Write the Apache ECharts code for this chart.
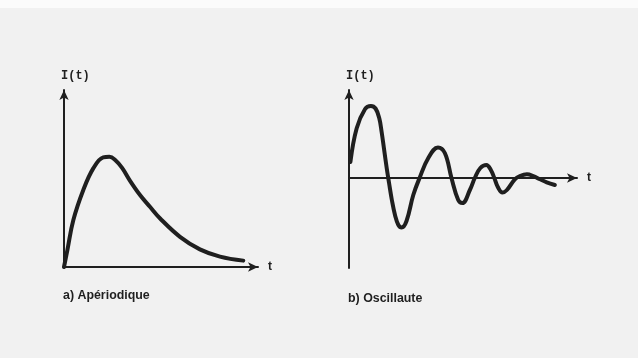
<!DOCTYPE html>
<html>
<head>
<meta charset="utf-8">
<script src="https://cdn.jsdelivr.net/npm/echarts@6/dist/echarts.min.js"></script>
<style>
html,body{margin:0;padding:0;background:#f1f1f1;}
#chart{width:638px;height:358px;}
</style>
</head>
<body>
<div id="chart"></div>
<script>
// a) Apériodique : t and I(t)
var aperiodicT = [0, 0.17, 0.47, 0.97, 1.47, 1.97, 2.28, 2.56, 2.92, 3.32, 3.82, 4.32, 4.82, 5.83, 6.83, 7.84, 9.01];
var aperiodicI = [0, 0.93, 2.58, 4.23, 5.42, 6.03, 6.06, 5.90, 5.45, 4.74, 3.96, 3.31, 2.68, 1.66, 0.97, 0.57, 0.35];
// b) Oscillaute : t and I(t)
var oscT = [0.06, 0.33, 0.69, 0.94, 1.14, 1.30, 1.40, 1.50, 1.62, 1.72, 1.84, 1.98, 2.12, 2.26, 2.47, 2.76, 3.03, 3.40, 3.82, 4.12, 4.40, 4.69, 4.87, 5.19, 5.41, 5.64, 5.90, 6.09, 6.24, 6.39, 6.59, 6.78, 7.12, 7.34, 7.64, 7.91, 8.20, 8.49, 8.84];
var oscI = [1.6, 4.97, 6.9, 7.2, 6.95, 5.97, 4.63, 2.97, 0.97, -0.5, -2.2, -3.75, -4.7, -4.95, -4.3, -1.7, 0, 1.97, 3.05, 2.47, 0, -2.2, -2.5, -1.2, 0.05, 1.0, 1.3, 0.8, 0, -0.9, -1.45, -1.2, -0.13, 0.2, 0.37, 0.2, -0.13, -0.43, -0.7];
var captions = ['a) Apériodique', 'b) Oscillaute'];
var xName = 't';
var yName = 'I(t)';

function zip(a, b) { return a.map(function (v, i) { return [v, b[i]]; }); }

var ink = '#1f1f1f';
function axisLine() {
  return { show: true, onZero: true, symbol: ['none', 'arrow'], symbolSize: [7, 10],
           lineStyle: { color: ink, width: 2 } };
}
function xAx(idx, max) {
  return { type: 'value', gridIndex: idx, min: 0, max: max, name: xName, nameLocation: 'end', nameGap: 10,
           nameTextStyle: { color: ink, fontSize: 12, fontFamily: 'Liberation Sans', fontWeight: 'bold', verticalAlign: 'middle', padding: [3, 0, 0, 0] },
           axisLine: axisLine(), axisTick: { show: false }, axisLabel: { show: false }, splitLine: { show: false } };
}
function yAx(idx, min, max) {
  return { type: 'value', gridIndex: idx, min: min, max: max, name: yName, nameLocation: 'end', nameGap: 8,
           nameTextStyle: { color: ink, fontSize: 12, fontFamily: 'Liberation Mono', fontWeight: 'bold', align: 'left', padding: [0, 0, 0, -3] },
           axisLine: axisLine(), axisTick: { show: false }, axisLabel: { show: false }, splitLine: { show: false } };
}

var chart = echarts.init(document.getElementById('chart'), null, { renderer: 'canvas' });
chart.setOption({
  backgroundColor: '#f1f1f1',
  animation: false,
  graphic: [{ type: 'rect', shape: { x: 0, y: 0, width: 638, height: 8 }, style: { fill: '#fbfbfb' }, z: -10 }],
  title: [
    { text: captions[0], left: 63, top: 290, padding: 0, textStyle: { fontSize: 12.4, fontWeight: 'bold', color: ink, fontFamily: 'Liberation Sans' } },
    { text: captions[1], left: 348, top: 292.5, padding: 0, textStyle: { fontSize: 12.4, fontWeight: 'bold', color: ink, fontFamily: 'Liberation Sans' } }
  ],
  grid: [
    { left: 64, top: 90, width: 194, height: 177 },
    { left: 349, top: 90, width: 228, height: 178 }
  ],
  xAxis: [xAx(0, 9.75), xAx(1, 9.79)],
  yAxis: [yAx(0, 0, 9.73), yAx(1, -9.0, 8.8)],
  series: [
    { type: 'line', xAxisIndex: 0, yAxisIndex: 0, data: zip(aperiodicT, aperiodicI), smooth: 0.4, symbol: 'none',
      lineStyle: { color: ink, width: 4, cap: 'round', join: 'round' } },
    { type: 'line', xAxisIndex: 1, yAxisIndex: 1, data: zip(oscT, oscI), smooth: 0.4, symbol: 'none',
      lineStyle: { color: ink, width: 4, cap: 'round', join: 'round' } }
  ]
});
</script>
</body>
</html>
